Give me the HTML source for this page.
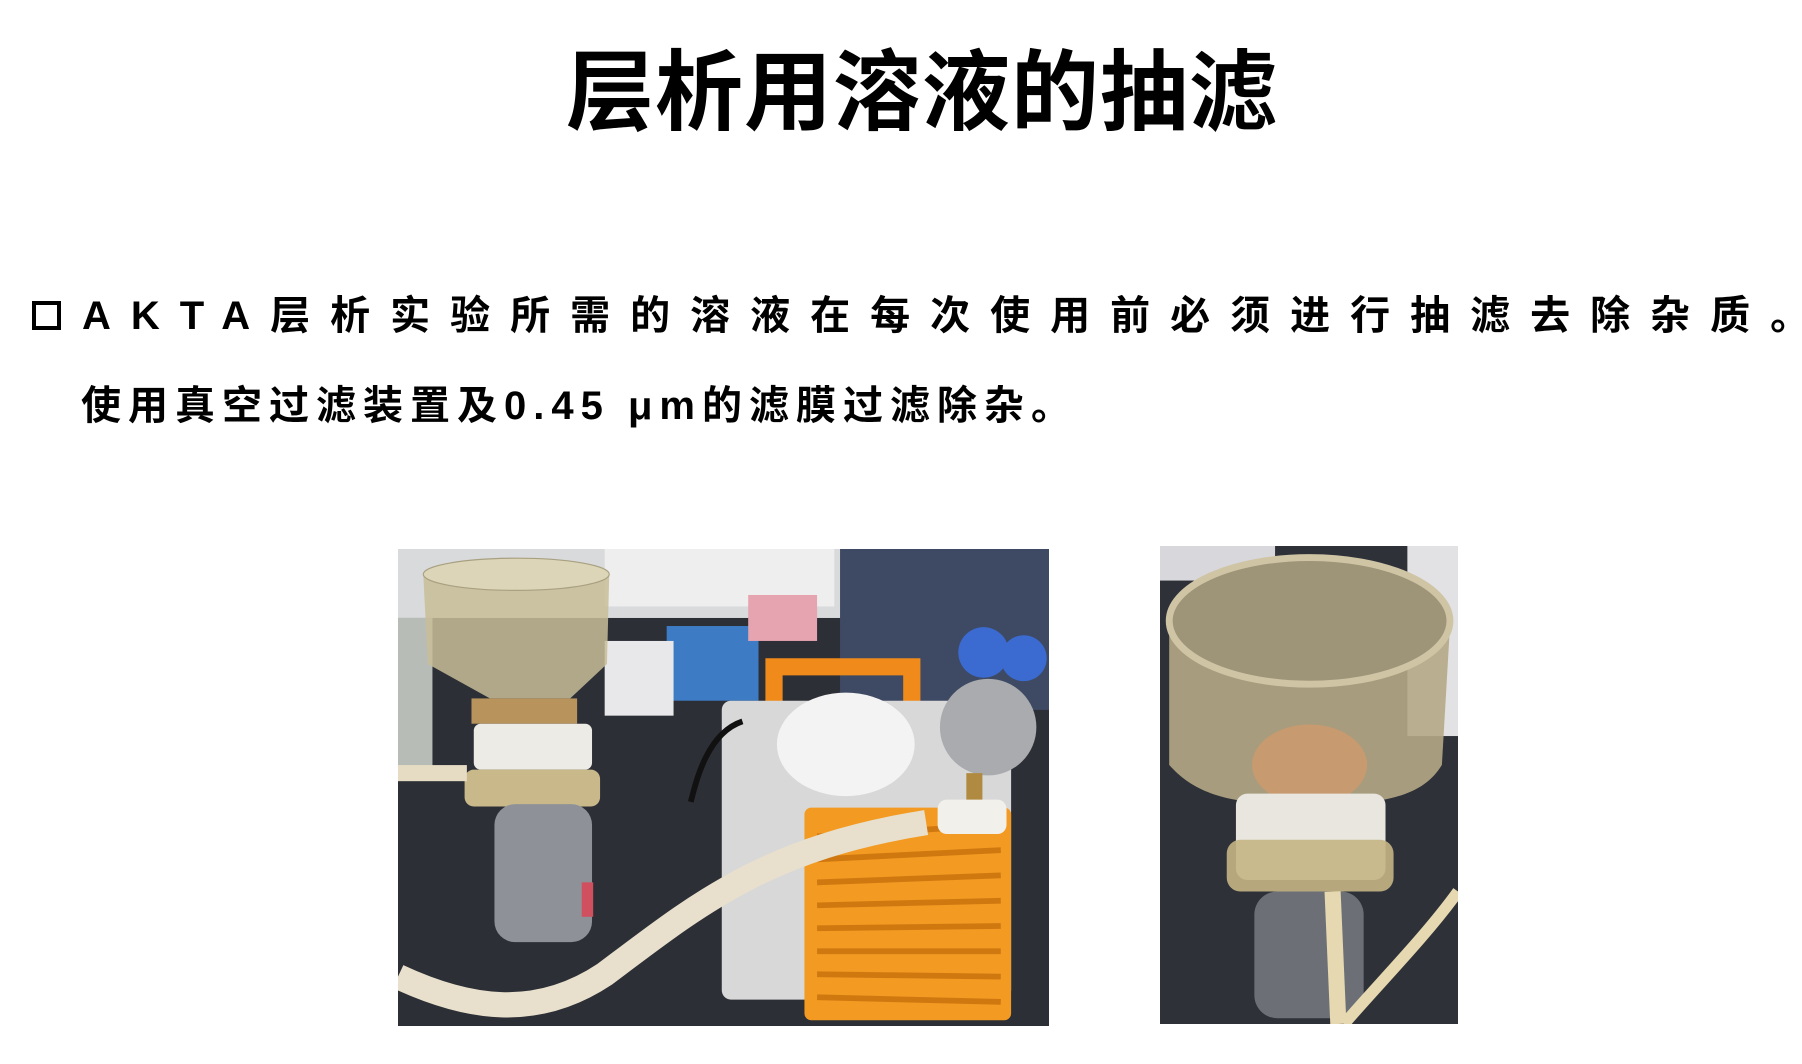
<!DOCTYPE html>
<html><head><meta charset="utf-8"><style>
html,body{margin:0;padding:0;background:#fff;}
body{width:1802px;height:1064px;position:relative;overflow:hidden;font-family:"Liberation Sans","Noto Sans CJK SC",sans-serif;color:#000;}
.t{position:absolute;white-space:nowrap;font-weight:bold;}
</style></head><body>
<div class="t" style="left:566px;top:40px;font-size:88px;line-height:106px;letter-spacing:1px;">层析用溶液的抽滤</div>
<div style="position:absolute;left:32px;top:301px;width:21px;height:21px;border:4px solid #000;"></div>
<div class="t" style="left:82px;top:290px;font-size:40px;line-height:52px;letter-spacing:20px;">AKTA层析实验所需的溶液在每次使用前必须进行抽滤去除杂质。</div>
<div class="t" style="left:81px;top:380px;font-size:40px;line-height:52px;letter-spacing:7px;">使用真空过滤装置及0.45 μm的滤膜过滤除杂。</div>

<svg style="position:absolute;left:398px;top:549px;" width="651" height="477" viewBox="0 0 567 415" preserveAspectRatio="none">
<rect width="567" height="415" fill="#2c2f36"/>
<rect x="0" y="0" width="567" height="60" fill="#d9dadc"/>
<rect x="180" y="0" width="200" height="50" fill="#eeeeee"/>
<rect x="385" y="0" width="182" height="140" fill="#3e4a63"/>
<rect x="0" y="60" width="30" height="130" fill="#b8bcb6"/>
<rect x="234" y="67" width="80" height="65" fill="#3d7cc4"/>
<rect x="180" y="80" width="60" height="65" fill="#e8e8ea"/>
<rect x="305" y="40" width="60" height="40" fill="#e6a4b0"/>
<circle cx="510" cy="90" r="22" fill="#3b6bd0"/><circle cx="545" cy="95" r="20" fill="#3b6bd0"/>
<path d="M22 22 L184 22 L182 100 L150 130 L80 130 L26 100 Z" fill="#c8bd98" opacity="0.85"/>
<ellipse cx="103" cy="22" rx="81" ry="14" fill="#ddd5b8" stroke="#a8a080"/>
<rect x="64" y="130" width="92" height="22" fill="#b8945c"/>
<rect x="66" y="152" width="103" height="40" rx="6" fill="#ecebe6"/>
<rect x="58" y="192" width="118" height="32" rx="8" fill="#c9b98a"/>
<rect x="0" y="188" width="60" height="14" fill="#e6dcc4"/>
<rect x="84" y="222" width="85" height="120" rx="18" fill="#8e9298"/>
<rect x="160" y="290" width="10" height="30" fill="#d05060"/>
<path d="M320 95 L455 95 L455 140 L440 140 L440 110 L335 110 L335 145 L320 145 Z" fill="#f08a1a"/>
<rect x="282" y="132" width="252" height="260" rx="8" fill="#d8d8d8"/>
<rect x="354" y="225" width="180" height="185" rx="6" fill="#f39a22"/>
<g stroke="#d07810" stroke-width="5">
<line x1="365" y1="250" x2="525" y2="240"/><line x1="365" y1="270" x2="525" y2="262"/><line x1="365" y1="290" x2="525" y2="284"/><line x1="365" y1="310" x2="525" y2="306"/><line x1="365" y1="330" x2="525" y2="328"/><line x1="365" y1="350" x2="525" y2="350"/><line x1="365" y1="370" x2="525" y2="372"/><line x1="365" y1="390" x2="525" y2="394"/>
</g>
<ellipse cx="390" cy="170" rx="60" ry="45" fill="#f3f3f3"/>
<circle cx="514" cy="155" r="42" fill="#a9abae"/>
<rect x="495" y="195" width="14" height="25" fill="#b08a40"/>
<rect x="470" y="218" width="60" height="30" rx="8" fill="#f2f0ea"/>
<path d="M0 372 C60 400 120 410 180 370 C260 310 320 260 460 238" fill="none" stroke="#e8e0cc" stroke-width="22"/>
<path d="M300 150 C270 160 260 200 255 220" fill="none" stroke="#111" stroke-width="5"/>
</svg>

<svg style="position:absolute;left:1160px;top:546px;" width="298" height="478" viewBox="0 0 259 415" preserveAspectRatio="none">
<rect width="259" height="415" fill="#2e3138"/>
<rect x="215" y="0" width="44" height="165" fill="#e2e2e4"/>
<rect x="0" y="0" width="100" height="30" fill="#d8d8dc"/>
<path d="M8 70 L8 190 C30 215 60 225 130 225 C200 225 230 215 245 190 L252 70 Z" fill="#b5a985" opacity="0.9"/>
<ellipse cx="130" cy="65" rx="122" ry="55" fill="#9e9478" stroke="#cfc5a5" stroke-width="6"/>
<ellipse cx="130" cy="190" rx="50" ry="35" fill="#c89a70"/>
<rect x="66" y="215" width="130" height="75" rx="10" fill="#e8e6df"/>
<rect x="58" y="255" width="145" height="45" rx="12" fill="#c5b585" opacity="0.9"/>
<rect x="82" y="300" width="95" height="110" rx="20" fill="#6c7076"/>
<path d="M150 300 L155 415" stroke="#e6d8b0" stroke-width="14"/>
<path d="M259 300 C230 340 190 380 160 415" fill="none" stroke="#e6d8b0" stroke-width="10"/>
</svg>
</body></html>
